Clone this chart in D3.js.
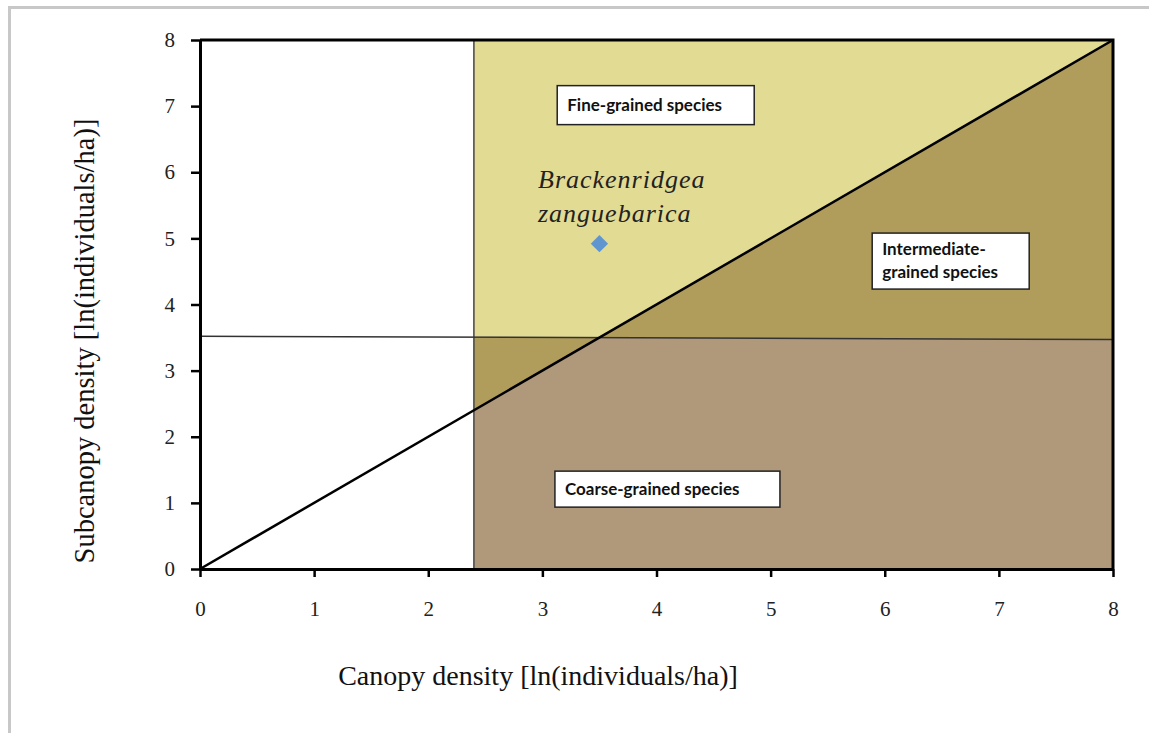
<!DOCTYPE html>
<html>
<head>
<meta charset="utf-8">
<script src="https://cdn.jsdelivr.net/npm/d3@7"></script>
<style>
  body { margin: 0; background: #fff; }
  svg { display: block; }
</style>
</head>
<body>
<svg id="chart" width="1149" height="733"></svg>
<script>
// axis ticks
var xTicks = [0, 1, 2, 3, 4, 5, 6, 7, 8];
var yTicks = [0, 1, 2, 3, 4, 5, 6, 7, 8];

// thresholds (ln density)
var canopyThreshold = 2.4;
var subcanopyLine = [[0, 3.52], [8, 3.47]];
var diagonal = [[0, 0], [8, 8]];

// species point
var species = [{ name: ["Brackenridgea", "zanguebarica"], canopy: 3.5, subcanopy: 4.92 }];

// region labels
var regions = [
  { lines: ["Fine-grained species"], x: 3.13, y: 7.31, w: 197, h: 39 },
  { lines: ["Intermediate-", "grained species"], x: 5.89, y: 5.08, w: 157, h: 56 },
  { lines: ["Coarse-grained species"], x: 3.11, y: 1.48, w: 225, h: 36 }
];

var svg = d3.select("#chart");
var x = d3.scaleLinear().domain([0, 8]).range([200, 1113]);
var y = d3.scaleLinear().domain([0, 8]).range([569, 40]);

// outer frame (only top/left visible)
svg.append("path")
  .attr("d", "M9.5,735 L9.5,7.5 L1152,7.5")
  .attr("fill", "none").attr("stroke", "#c8c8c8").attr("stroke-width", 3);

// subcanopy line value at a given canopy x
function hY(cx) {
  var a = subcanopyLine[0], b = subcanopyLine[1];
  return a[1] + (b[1] - a[1]) * (cx - a[0]) / (b[0] - a[0]);
}

// where the diagonal meets the horizontal line
function crossX() {
  var a = subcanopyLine[0], b = subcanopyLine[1];
  var m = (b[1] - a[1]) / (b[0] - a[0]);
  return (a[1] - m * a[0]) / (1 - m);
}

var t0 = canopyThreshold, t1 = 8, cx = crossX();
var line = d3.line().x(function (d) { return x(d[0]); }).y(function (d) { return y(d[1]); });

// fine-grained (yellow)
svg.append("path").attr("fill", "#e2db94")
  .attr("d", line([[t0, 8], [t1, 8], [cx, cx], [t0, hY(t0)]]) + "Z");
// intermediate (olive)
svg.append("path").attr("fill", "#b09c5b")
  .attr("d", line([[t0, t0], [cx, cx], [t0, hY(t0)]]) + "Z");
svg.append("path").attr("fill", "#b09c5b")
  .attr("d", line([[cx, cx], [t1, t1], [t1, hY(t1)]]) + "Z");
// coarse-grained (brown)
svg.append("path").attr("fill", "#b0987b")
  .attr("d", line([[t0, 0], [t0, t0], [cx, cx], [t1, hY(t1)], [t1, 0]]) + "Z");

// threshold lines
svg.append("line")
  .attr("x1", x(t0)).attr("x2", x(t0)).attr("y1", y(8)).attr("y2", y(0))
  .attr("stroke", "#444").attr("stroke-width", 1.5);
svg.append("path").attr("d", line(subcanopyLine))
  .attr("fill", "none").attr("stroke", "#333").attr("stroke-width", 1.5);

// diagonal
svg.append("path").attr("d", line(diagonal))
  .attr("fill", "none").attr("stroke", "#000").attr("stroke-width", 2.5);

// plot frame top & right
svg.append("path")
  .attr("d", "M" + x(0) + "," + y(8) + "H" + x(8) + "V" + y(0))
  .attr("fill", "none").attr("stroke", "#000").attr("stroke-width", 3);

// axes
var xAxis = svg.append("g").attr("transform", "translate(0," + y(0) + ")")
  .call(d3.axisBottom(x).tickValues(xTicks).tickSize(8).tickSizeOuter(0).tickPadding(24));
var yAxis = svg.append("g").attr("transform", "translate(" + x(0) + ",0)")
  .call(d3.axisLeft(y).tickValues(yTicks).tickSize(9).tickSizeOuter(0).tickPadding(16));
[xAxis, yAxis].forEach(function (g) {
  g.select(".domain").attr("stroke", "#000").attr("stroke-width", 3);
  g.selectAll(".tick line").attr("stroke", "#000").attr("stroke-width", 2.5);
  g.selectAll(".tick text")
    .attr("font-family", "'Liberation Serif', 'Times New Roman', serif")
    .attr("font-size", 21).attr("fill", "#222");
});

// axis titles
svg.append("text").attr("x", 538).attr("y", 685).attr("text-anchor", "middle")
  .attr("font-family", "'Liberation Serif', 'Times New Roman', serif")
  .attr("font-size", 28).attr("fill", "#111")
  .text("Canopy density [ln(individuals/ha)]");
svg.append("text").attr("transform", "translate(94,341) rotate(-90)")
  .attr("text-anchor", "middle")
  .attr("font-family", "'Liberation Serif', 'Times New Roman', serif")
  .attr("font-size", 28.5).attr("fill", "#111")
  .text("Subcanopy density [ln(individuals/ha)]");

// region label boxes
regions.forEach(function (r) {
  var g = svg.append("g").attr("transform", "translate(" + x(r.x) + "," + y(r.y) + ")");
  g.append("rect").attr("width", r.w).attr("height", r.h)
    .attr("fill", "#fff").attr("stroke", "#222").attr("stroke-width", 1.5);
  r.lines.forEach(function (t, i) {
    g.append("text").attr("x", 10)
      .attr("y", r.lines.length === 1 ? r.h / 2 + 6 : 22 + i * 23)
      .attr("font-family", "Lato, 'Open Sans', sans-serif")
      .attr("font-weight", "bold").attr("font-size", 17).attr("fill", "#111")
      .text(t);
  });
});

// species point + label
species.forEach(function (s) {
  var px = x(s.canopy), py = y(s.subcanopy);
  svg.append("path")
    .attr("d", d3.symbol().type(d3.symbolSquare).size(150)())
    .attr("transform", "translate(" + px + "," + py + ") rotate(45)")
    .attr("fill", "#6096d0");
  s.name.forEach(function (t, i) {
    svg.append("text").attr("x", 538).attr("y", 188 + i * 34)
      .attr("font-family", "'Liberation Serif', 'Times New Roman', serif")
      .attr("font-style", "italic").attr("font-size", 26)
      .attr("letter-spacing", 1).attr("fill", "#222")
      .text(t);
  });
});
</script>
</body>
</html>
